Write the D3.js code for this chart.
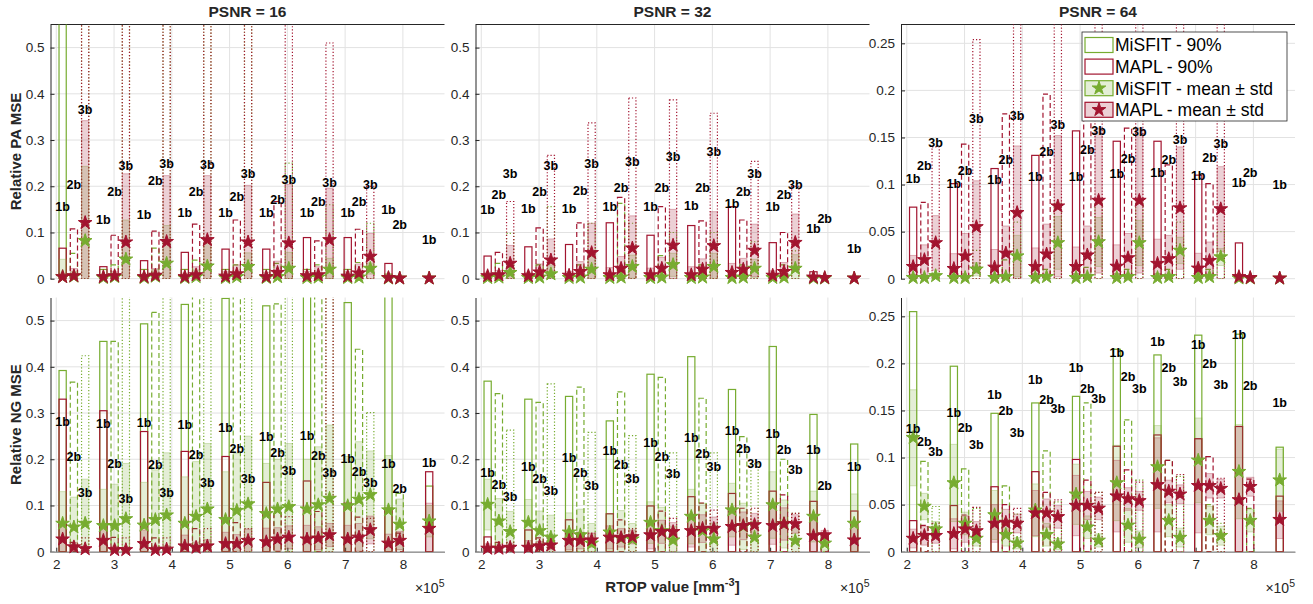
<!DOCTYPE html>
<html>
<head>
<meta charset="utf-8">
<script src="https://cdn.jsdelivr.net/npm/d3@7"></script>
<style>
body { margin: 0; background: #fff; }
svg { font-family: "Liberation Sans", Arial, Helvetica, sans-serif; }
</style>
</head>
<body>
<svg width="1313" height="604"></svg>
<script>
// RTOP groups (x1e5) and the b-value sub conditions in each group
var groupRtop = [2.11, 2.815, 3.52, 4.225, 4.93, 5.635, 6.34, 7.045, 7.75, 8.455];
var subPerGroup = [3, 3, 3, 3, 3, 3, 3, 3, 2, 1];
var subOffset = [0, 0.195, 0.39];
var subLabels = ["1b", "2b", "3b"];
var xTicks = [2, 3, 4, 5, 6, 7, 8];
var ticksWide = [0, 0.1, 0.2, 0.3, 0.4, 0.5];
var ticksNarrow = [0, 0.05, 0.1, 0.15, 0.2, 0.25];
var titles = ["PSNR = 16", "PSNR = 32", "PSNR = 64"];
var rowLabels = ["Relative PA MSE", "Relative NG MSE"];

// ---- PA, PSNR 16
var pa16_gHi = [0.6, 0.055, 0.6, 0.02, 0.03, 0.6, 0.02, 0.066, 0.6, 0.02, 0.04, 0.6, 0.02, 0.03, 0.6, 0.02, 0.033, 0.25, 0.02, 0.03, 0.16, 0.02, 0.035, 0.12, 0.01, 0.004, 0.002];
var pa16_rHi = [0.066, 0.108, 0.6, 0.026, 0.094, 0.6, 0.039, 0.103, 0.6, 0.057, 0.118, 0.6, 0.064, 0.127, 0.6, 0.064, 0.167, 0.6, 0.089, 0.082, 0.51, 0.089, 0.107, 0.2, 0.033, 0.004, 0.002];
var pa16_gM = [0.004, 0.005, 0.082, 0.002, 0.004, 0.042, 0.002, 0.005, 0.033, 0.002, 0.004, 0.027, 0.002, 0.004, 0.026, 0.002, 0.004, 0.022, 0.002, 0.003, 0.02, 0.002, 0.003, 0.022, 0.001, 0.001, 0.001];
var pa16_gS = [0.038, 0.01, 0.161, 0.005, 0.008, 0.085, 0.005, 0.015, 0.082, 0.005, 0.015, 0.05, 0.005, 0.01, 0.03, 0.005, 0.01, 0.035, 0.004, 0.008, 0.024, 0.004, 0.008, 0.012, 0.002, 0.001, 0.001];
var pa16_rM = [0.004, 0.006, 0.121, 0.004, 0.006, 0.079, 0.004, 0.007, 0.08, 0.004, 0.008, 0.084, 0.005, 0.01, 0.079, 0.004, 0.013, 0.077, 0.006, 0.008, 0.084, 0.005, 0.012, 0.048, 0.002, 0.001, 0.001];
var pa16_rS = [0.008, 0.016, 0.221, 0.005, 0.01, 0.148, 0.006, 0.015, 0.143, 0.008, 0.018, 0.139, 0.01, 0.02, 0.123, 0.01, 0.025, 0.127, 0.01, 0.018, 0.112, 0.01, 0.02, 0.05, 0.004, 0.002, 0.001];
var pa16_lab = [0.155, 0.203, 0.366, 0.127, 0.189, 0.244, 0.139, 0.212, 0.25, 0.142, 0.189, 0.246, 0.142, 0.178, 0.228, 0.142, 0.172, 0.215, 0.142, 0.167, 0.207, 0.144, 0.167, 0.204, 0.15, 0.116, 0.085];

// ---- PA, PSNR 32
var pa32_gHi = [0.01, 0.033, 0.098, 0.01, 0.03, 0.156, 0.01, 0.03, 0.12, 0.01, 0.163, 0.12, 0.01, 0.05, 0.1, 0.01, 0.03, 0.1, 0.01, 0.03, 0.08, 0.01, 0.03, 0.06, 0.005, 0.003, 0.002];
var pa32_rHi = [0.049, 0.057, 0.167, 0.069, 0.11, 0.267, 0.074, 0.121, 0.337, 0.121, 0.176, 0.391, 0.094, 0.156, 0.387, 0.115, 0.125, 0.358, 0.156, 0.127, 0.254, 0.078, 0.1, 0.2, 0.015, 0.005, 0.002];
var pa32_gM = [0.002, 0.003, 0.013, 0.002, 0.003, 0.01, 0.002, 0.003, 0.02, 0.002, 0.003, 0.026, 0.002, 0.003, 0.03, 0.002, 0.003, 0.026, 0.002, 0.003, 0.022, 0.002, 0.003, 0.022, 0.001, 0.001, 0.001];
var pa32_gS = [0.004, 0.005, 0.013, 0.004, 0.005, 0.02, 0.004, 0.005, 0.028, 0.004, 0.008, 0.025, 0.004, 0.006, 0.025, 0.004, 0.006, 0.029, 0.004, 0.006, 0.02, 0.004, 0.006, 0.03, 0.002, 0.001, 0.001];
var pa32_rM = [0.006, 0.008, 0.033, 0.006, 0.014, 0.04, 0.007, 0.015, 0.056, 0.008, 0.022, 0.066, 0.008, 0.022, 0.072, 0.008, 0.02, 0.071, 0.013, 0.02, 0.061, 0.007, 0.015, 0.078, 0.003, 0.002, 0.001];
var pa32_rS = [0.008, 0.01, 0.039, 0.008, 0.018, 0.046, 0.009, 0.022, 0.064, 0.016, 0.026, 0.07, 0.015, 0.024, 0.078, 0.018, 0.023, 0.074, 0.02, 0.024, 0.057, 0.01, 0.02, 0.062, 0.004, 0.002, 0.001];
var pa32_lab = [0.149, 0.181, 0.227, 0.151, 0.189, 0.245, 0.152, 0.191, 0.249, 0.156, 0.197, 0.254, 0.156, 0.198, 0.264, 0.158, 0.197, 0.275, 0.162, 0.189, 0.227, 0.156, 0.181, 0.204, 0.109, 0.131, 0.064];

// ---- PA, PSNR 64
var pa64_gHi = [0.004, 0.004, 0.006, 0.004, 0.005, 0.03, 0.004, 0.02, 0.06, 0.005, 0.01, 0.08, 0.005, 0.012, 0.08, 0.005, 0.01, 0.08, 0.005, 0.01, 0.06, 0.005, 0.01, 0.05, 0.002, 0.002, 0.001];
var pa64_rHi = [0.076, 0.081, 0.14, 0.101, 0.143, 0.254, 0.117, 0.175, 0.3, 0.131, 0.196, 0.3, 0.157, 0.2, 0.3, 0.146, 0.16, 0.3, 0.146, 0.121, 0.3, 0.11, 0.101, 0.3, 0.038, 0.003, 0.001];
var pa64_gM = [0.001, 0.001, 0.003, 0.001, 0.001, 0.01, 0.001, 0.002, 0.024, 0.001, 0.002, 0.038, 0.001, 0.002, 0.039, 0.001, 0.002, 0.038, 0.001, 0.002, 0.03, 0.001, 0.002, 0.023, 0.0005, 0.0005, 0.0003];
var pa64_gS = [0.001, 0.001, 0.003, 0.001, 0.002, 0.007, 0.001, 0.003, 0.022, 0.001, 0.003, 0.028, 0.001, 0.003, 0.026, 0.001, 0.003, 0.024, 0.001, 0.003, 0.014, 0.001, 0.003, 0.009, 0.0005, 0.0005, 0.0003];
var pa64_rM = [0.0127, 0.02, 0.038, 0.0106, 0.024, 0.055, 0.012, 0.027, 0.07, 0.0127, 0.026, 0.077, 0.0127, 0.025, 0.083, 0.013, 0.022, 0.083, 0.016, 0.021, 0.075, 0.011, 0.019, 0.074, 0.002, 0.001, 0.0005];
var pa64_rS = [0.012, 0.016, 0.029, 0.016, 0.024, 0.049, 0.019, 0.029, 0.071, 0.02, 0.032, 0.075, 0.021, 0.031, 0.077, 0.023, 0.026, 0.077, 0.026, 0.025, 0.065, 0.016, 0.02, 0.045, 0.003, 0.001, 0.0005];
var pa64_lab = [0.106, 0.12, 0.145, 0.101, 0.115, 0.17, 0.105, 0.127, 0.173, 0.108, 0.135, 0.164, 0.108, 0.137, 0.157, 0.112, 0.128, 0.156, 0.113, 0.126, 0.148, 0.11, 0.129, 0.144, 0.102, 0.113, 0.1];

// ---- NG, PSNR 16
var ng16_gHi = [0.392, 0.367, 0.424, 0.455, 0.455, 0.6, 0.493, 0.518, 0.6, 0.535, 0.6, 0.6, 0.548, 0.6, 0.6, 0.532, 0.536, 0.6, 0.6, 0.6, 0.6, 0.539, 0.438, 0.301, 0.6, 0.126, 0.142];
var ng16_rHi = [0.33, 0.02, 0.03, 0.305, 0.031, 0.03, 0.26, 0.03, 0.03, 0.217, 0.05, 0.05, 0.206, 0.063, 0.05, 0.15, 0.087, 0.076, 0.153, 0.087, 0.6, 0.105, 0.075, 0.072, 0.094, 0.04, 0.173];
var ng16_gM = [0.061, 0.053, 0.061, 0.056, 0.056, 0.071, 0.057, 0.069, 0.079, 0.061, 0.076, 0.092, 0.069, 0.089, 0.103, 0.082, 0.092, 0.097, 0.092, 0.101, 0.115, 0.099, 0.113, 0.123, 0.09, 0.059, 0.066];
var ng16_gS = [0.069, 0.065, 0.096, 0.079, 0.09, 0.12, 0.093, 0.108, 0.135, 0.101, 0.119, 0.142, 0.104, 0.124, 0.147, 0.109, 0.108, 0.137, 0.108, 0.126, 0.159, 0.107, 0.125, 0.095, 0.118, 0.055, 0.034];
var ng16_rM = [0.027, 0.01, 0.006, 0.024, 0.004, 0.004, 0.017, 0.004, 0.005, 0.012, 0.009, 0.012, 0.017, 0.017, 0.024, 0.021, 0.027, 0.031, 0.027, 0.029, 0.036, 0.027, 0.031, 0.047, 0.018, 0.024, 0.05];
var ng16_rS = [0.034, 0.01, 0.006, 0.036, 0.008, 0.006, 0.03, 0.008, 0.008, 0.024, 0.012, 0.014, 0.025, 0.02, 0.025, 0.03, 0.025, 0.025, 0.03, 0.025, 0.025, 0.03, 0.03, 0.03, 0.02, 0.02, 0.055];
var ng16_lab = [0.281, 0.206, 0.128, 0.278, 0.191, 0.115, 0.28, 0.189, 0.128, 0.274, 0.211, 0.149, 0.269, 0.224, 0.158, 0.249, 0.214, 0.175, 0.251, 0.207, 0.171, 0.202, 0.173, 0.15, 0.191, 0.137, 0.193];

// ---- NG, PSNR 32
var ng32_gHi = [0.369, 0.342, 0.263, 0.33, 0.323, 0.363, 0.336, 0.356, 0.258, 0.283, 0.346, 0.251, 0.384, 0.377, 0.214, 0.422, 0.332, 0.214, 0.351, 0.249, 0.19, 0.444, 0.2, 0.083, 0.297, 0.035, 0.233];
var ng32_rHi = [0.032, 0.02, 0.02, 0.047, 0.03, 0.03, 0.069, 0.04, 0.04, 0.082, 0.069, 0.05, 0.099, 0.088, 0.072, 0.119, 0.105, 0.09, 0.126, 0.094, 0.094, 0.131, 0.123, 0.083, 0.109, 0.04, 0.088];
var ng32_gM = [0.102, 0.066, 0.043, 0.063, 0.045, 0.031, 0.042, 0.036, 0.018, 0.042, 0.029, 0.027, 0.063, 0.045, 0.025, 0.076, 0.045, 0.027, 0.09, 0.055, 0.031, 0.101, 0.06, 0.024, 0.076, 0.018, 0.061];
var ng32_gS = [0.055, 0.049, 0.044, 0.05, 0.043, 0.048, 0.042, 0.056, 0.043, 0.04, 0.06, 0.034, 0.045, 0.051, 0.03, 0.059, 0.06, 0.035, 0.058, 0.05, 0.035, 0.072, 0.052, 0.03, 0.055, 0.015, 0.064];
var ng32_rM = [0.007, 0.007, 0.009, 0.009, 0.012, 0.014, 0.024, 0.024, 0.025, 0.031, 0.03, 0.032, 0.036, 0.043, 0.043, 0.045, 0.05, 0.05, 0.054, 0.056, 0.058, 0.056, 0.06, 0.06, 0.034, 0.036, 0.025];
var ng32_rS = [0.01, 0.008, 0.008, 0.015, 0.01, 0.01, 0.02, 0.018, 0.015, 0.025, 0.02, 0.015, 0.03, 0.025, 0.02, 0.035, 0.03, 0.025, 0.04, 0.03, 0.025, 0.04, 0.035, 0.02, 0.035, 0.01, 0.03];
var ng32_lab = [0.171, 0.146, 0.119, 0.184, 0.159, 0.133, 0.204, 0.171, 0.144, 0.218, 0.188, 0.159, 0.236, 0.206, 0.17, 0.246, 0.213, 0.185, 0.263, 0.223, 0.191, 0.255, 0.22, 0.177, 0.221, 0.142, 0.184];

// ---- NG, PSNR 64
var ng64_gHi = [0.255, 0.096, 0.048, 0.197, 0.088, 0.046, 0.147, 0.07, 0.04, 0.158, 0.107, 0.053, 0.165, 0.158, 0.063, 0.215, 0.14, 0.076, 0.209, 0.097, 0.08, 0.23, 0.05, 0.03, 0.231, 0.046, 0.111];
var ng64_rHi = [0.033, 0.028, 0.03, 0.049, 0.039, 0.047, 0.069, 0.05, 0.046, 0.085, 0.063, 0.055, 0.098, 0.076, 0.063, 0.112, 0.087, 0.074, 0.124, 0.097, 0.082, 0.12, 0.101, 0.078, 0.133, 0.077, 0.059];
var ng64_gM = [0.121, 0.048, 0.024, 0.073, 0.03, 0.014, 0.039, 0.018, 0.009, 0.044, 0.018, 0.008, 0.061, 0.026, 0.012, 0.073, 0.028, 0.013, 0.09, 0.033, 0.015, 0.097, 0.033, 0.017, 0.085, 0.033, 0.076];
var ng64_gS = [0.051, 0.014, 0.008, 0.041, 0.012, 0.008, 0.026, 0.012, 0.006, 0.028, 0.012, 0.006, 0.032, 0.012, 0.007, 0.04, 0.018, 0.009, 0.044, 0.017, 0.01, 0.045, 0.015, 0.01, 0.05, 0.012, 0.033];
var ng64_rM = [0.014, 0.017, 0.017, 0.019, 0.024, 0.022, 0.03, 0.031, 0.03, 0.041, 0.041, 0.037, 0.049, 0.049, 0.046, 0.059, 0.056, 0.054, 0.071, 0.064, 0.061, 0.07, 0.07, 0.067, 0.055, 0.069, 0.034];
var ng64_rS = [0.01, 0.01, 0.008, 0.016, 0.014, 0.01, 0.02, 0.014, 0.01, 0.024, 0.015, 0.012, 0.032, 0.015, 0.012, 0.038, 0.012, 0.01, 0.05, 0.012, 0.01, 0.05, 0.013, 0.01, 0.078, 0.01, 0.02];
var ng64_lab = [0.131, 0.117, 0.106, 0.148, 0.132, 0.114, 0.167, 0.15, 0.127, 0.183, 0.162, 0.152, 0.196, 0.173, 0.163, 0.211, 0.186, 0.173, 0.223, 0.196, 0.181, 0.22, 0.2, 0.177, 0.231, 0.176, 0.158];

var legendLabels = ["MiSFIT - 90%", "MAPL - 90%", "MiSFIT - mean \u00b1 std", "MAPL - mean \u00b1 std"];

//Layout
var panelLeft = [50.5, 475.5, 901];
var panelW = 394;
var rowTop = [24.5, 297.5];
var rowBottom = [278.7, 551.7];
var xDomain = [1.9, 8.72];
var boxW = 0.125;
var green = "#77AC30", red = "#A2142F", axisCol = "#262626";
var dashes = ["", "5,3", "1.2,2"];

var svg = d3.select("svg");
var defs = svg.append("defs");
var star = d3.symbol().type(d3.symbolStar).size(58);

// one entry per plotted condition
var items = [];
groupRtop.forEach(function (gx, g) {
    for (var s = 0; s < subPerGroup[g]; s++) {
        items.push({ x: gx + subOffset[s], s: s });
    }
});

var panels = [
    { col: 0, row: 0, yMax: 0.55, ticks: ticksWide, gHi: pa16_gHi, rHi: pa16_rHi, gM: pa16_gM, gS: pa16_gS, rM: pa16_rM, rS: pa16_rS, lab: pa16_lab },
    { col: 1, row: 0, yMax: 0.55, ticks: ticksWide, gHi: pa32_gHi, rHi: pa32_rHi, gM: pa32_gM, gS: pa32_gS, rM: pa32_rM, rS: pa32_rS, lab: pa32_lab },
    { col: 2, row: 0, yMax: 0.27, ticks: ticksNarrow, gHi: pa64_gHi, rHi: pa64_rHi, gM: pa64_gM, gS: pa64_gS, rM: pa64_rM, rS: pa64_rS, lab: pa64_lab },
    { col: 0, row: 1, yMax: 0.55, ticks: ticksWide, gHi: ng16_gHi, rHi: ng16_rHi, gM: ng16_gM, gS: ng16_gS, rM: ng16_rM, rS: ng16_rS, lab: ng16_lab },
    { col: 1, row: 1, yMax: 0.55, ticks: ticksWide, gHi: ng32_gHi, rHi: ng32_rHi, gM: ng32_gM, gS: ng32_gS, rM: ng32_rM, rS: ng32_rS, lab: ng32_lab },
    { col: 2, row: 1, yMax: 0.27, ticks: ticksNarrow, gHi: ng64_gHi, rHi: ng64_rHi, gM: ng64_gM, gS: ng64_gS, rM: ng64_rM, rS: ng64_rS, lab: ng64_lab }
];

panels.forEach(function (p) {
    var left = panelLeft[p.col], top = rowTop[p.row], bottom = rowBottom[p.row];
    var x = d3.scaleLinear().domain(xDomain).range([left, left + panelW]);
    var y = d3.scaleLinear().domain([0, p.yMax]).range([bottom, top]);
    var g = svg.append("g");

    var rows = items.map(function (it, i) {
        return { x: it.x, s: it.s, gHi: p.gHi[i], rHi: p.rHi[i], gM: p.gM[i], gS: p.gS[i], rM: p.rM[i], rS: p.rS[i], lab: p.lab[i] };
    });

    // grid
    g.append("g").selectAll("line").data(xTicks).enter().append("line")
        .attr("x1", d => x(d)).attr("x2", d => x(d))
        .attr("y1", top).attr("y2", bottom)
        .attr("stroke", "#e2e2e2").attr("stroke-width", 1);
    g.append("g").selectAll("line").data(p.ticks).enter().append("line")
        .attr("x1", left).attr("x2", left + panelW)
        .attr("y1", d => y(d)).attr("y2", d => y(d))
        .attr("stroke", "#e2e2e2").attr("stroke-width", 1);

    // y axis
    var ya = g.append("g").attr("transform", "translate(" + left + ",0)")
        .call(d3.axisLeft(y).tickValues(p.ticks).tickFormat(d => String(d))
            .tickSizeInner(-4).tickSizeOuter(0).tickPadding(6));
    ya.select(".domain").attr("stroke", axisCol);
    ya.selectAll(".tick line").attr("stroke", axisCol);
    ya.selectAll("text").attr("fill", axisCol).style("font-size", "13.5px").style("font-family", "inherit");

    if (p.row == 0) {
        g.append("line").attr("x1", left).attr("x2", left + panelW)
            .attr("y1", top).attr("y2", top).attr("stroke", axisCol).attr("stroke-width", 1);
        g.append("text").attr("x", left + panelW / 2).attr("y", 17)
            .attr("text-anchor", "middle").style("font-size", "15.5px").style("font-weight", "bold")
            .attr("fill", axisCol).text(titles[p.col]);
    } else {
        var xa = g.append("g").attr("transform", "translate(0," + bottom + ")")
            .call(d3.axisBottom(x).tickValues(xTicks).tickFormat(d3.format("d"))
                .tickSizeInner(-4).tickSizeOuter(0).tickPadding(8));
        xa.select(".domain").attr("stroke", "#9c9c9c").attr("stroke-width", 1.6);
        xa.selectAll(".tick line").attr("stroke", axisCol);
        xa.selectAll("text").attr("fill", axisCol).style("font-size", "13.5px").style("font-family", "inherit");
        var ex = g.append("text").attr("x", left + panelW).attr("y", 593)
            .attr("text-anchor", "end").attr("fill", axisCol).style("font-size", "14px");
        ex.append("tspan").text("\u00d710");
        ex.append("tspan").attr("dy", -6).style("font-size", "10.5px").text("5");
    }
    if (p.col == 0) {
        g.append("text")
            .attr("transform", "translate(20.5," + ((top + bottom) / 2) + ") rotate(-90)")
            .attr("text-anchor", "middle").style("font-size", "15px").style("font-weight", "bold")
            .attr("fill", axisCol).text(rowLabels[p.row]);
    }

    // clipped boxes
    var cid = "clip" + p.col + p.row;
    defs.append("clipPath").attr("id", cid).append("rect")
        .attr("x", left).attr("y", top).attr("width", panelW).attr("height", bottom - top);
    var bx = g.append("g").attr("clip-path", "url(#" + cid + ")");

    function bw(d) { return x(d.x + boxW / 2) - x(d.x - boxW / 2); }

    function box90(key, color) {
        bx.append("g").selectAll("rect").data(rows).enter().append("rect")
            .attr("x", d => x(d.x - boxW / 2)).attr("width", bw)
            .attr("y", d => y(d[key])).attr("height", d => y(0) - y(d[key]))
            .attr("fill", "none").attr("stroke", color).attr("stroke-width", 1.2)
            .attr("stroke-dasharray", d => dashes[d.s]);
    }
    function boxStd(mk, sk, color) {
        bx.append("g").selectAll("rect").data(rows).enter().append("rect")
            .attr("x", d => x(d.x - boxW / 2)).attr("width", bw)
            .attr("y", d => y(d[mk] + d[sk]))
            .attr("height", d => y(d[mk] - d[sk]) - y(d[mk] + d[sk]))
            .attr("fill", color).attr("fill-opacity", 0.2)
            .attr("stroke", color).attr("stroke-opacity", 0.3).attr("stroke-width", 1);
    }
    box90("gHi", green);
    box90("rHi", red);
    boxStd("gM", "gS", green);
    boxStd("rM", "rS", red);

    // mean stars
    g.append("g").selectAll("path").data(rows).enter().append("path")
        .attr("d", star).attr("transform", d => "translate(" + x(d.x) + "," + y(d.gM) + ")")
        .attr("fill", green).attr("stroke", green).attr("stroke-width", 1);
    g.append("g").selectAll("path").data(rows).enter().append("path")
        .attr("d", star).attr("transform", d => "translate(" + x(d.x) + "," + y(d.rM) + ")")
        .attr("fill", red).attr("stroke", red).attr("stroke-width", 1);

    // condition labels
    g.append("g").selectAll("text").data(rows).enter().append("text")
        .attr("x", d => x(d.x)).attr("y", d => y(d.lab)).attr("dy", "0.35em")
        .attr("text-anchor", "middle").style("font-size", "12.5px").style("font-weight", "bold")
        .attr("fill", "#000").text(d => subLabels[d.s]);
});

// x label
var xl = svg.append("text").attr("x", panelLeft[1] + panelW / 2).attr("y", 592)
    .attr("text-anchor", "middle").style("font-size", "15px").style("font-weight", "bold").attr("fill", axisCol);
xl.append("tspan").text("RTOP value [mm");
xl.append("tspan").attr("dy", -6).style("font-size", "11px").text("-3");
xl.append("tspan").attr("dy", 6).text("]");

// legend
var lg = svg.append("g");
lg.append("rect").attr("x", 1082).attr("y", 32).attr("width", 205).attr("height", 89)
    .attr("fill", "#fff").attr("stroke", axisCol).attr("stroke-width", 0.8);
var legCols = [green, red, green, red];
legendLabels.forEach(function (t, i) {
    var cy = 45 + i * 21.6;
    lg.append("rect").attr("x", 1085).attr("y", cy - 7.5).attr("width", 28).attr("height", 15)
        .attr("fill", i < 2 ? "#fff" : legCols[i]).attr("fill-opacity", i < 2 ? 1 : 0.2)
        .attr("stroke", legCols[i]).attr("stroke-width", 1.2);
    if (i >= 2) {
        lg.append("path").attr("d", star).attr("transform", "translate(1099," + cy + ")")
            .attr("fill", legCols[i]).attr("stroke", legCols[i]);
    }
    lg.append("text").attr("x", 1115).attr("y", cy + 6.3).style("font-size", "17.5px")
        .attr("fill", "#000").text(t);
});
</script>
</body>
</html>
